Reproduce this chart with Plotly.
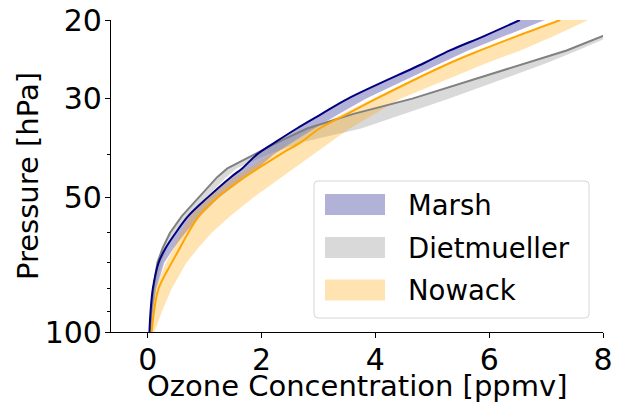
import math
import plotly.graph_objects as go

# Pressure levels [hPa]
pressure = [100, 90, 80, 70, 65, 60, 55, 50, 45, 43, 40, 37.5, 35, 32.5, 30, 25, 23.4, 21.7, 20]

# Ozone profiles [ppmv]: central line plus band edges for each dataset
marsh_line = [0.03, 0.05, 0.09, 0.19, 0.31, 0.49, 0.71, 1.05, 1.46, 1.66, 1.92, 2.25, 2.62, 3.05, 3.52, 4.85, 5.31, 5.92, 6.54]
marsh_upper = [0.06, 0.09, 0.15, 0.29, 0.45, 0.66, 0.92, 1.25, 1.72, 1.93, 2.22, 2.56, 2.93, 3.36, 3.84, 5.15, 5.63, 6.28, 6.98]

diet_line = [0.04, 0.06, 0.10, 0.17, 0.26, 0.39, 0.60, 0.90, 1.22, 1.40, 1.87, 2.30, 2.80, 3.60, 4.65, 6.63, 7.36, 8.00, 8.72]
diet_upper = [0.06, 0.09, 0.14, 0.24, 0.34, 0.48, 0.70, 1.02, 1.38, 1.56, 2.12, 2.75, 3.75, 4.50, 5.30, 7.00, 7.55, 8.15, 8.90]

nowack_line = [0.07, 0.11, 0.19, 0.42, 0.56, 0.71, 0.90, 1.22, 1.70, 1.94, 2.33, 2.70, 3.02, 3.50, 4.02, 5.30, 5.84, 6.50, 7.25]
nowack_lower = [0.05, 0.08, 0.13, 0.32, 0.45, 0.57, 0.75, 1.06, 1.52, 1.76, 2.16, 2.55, 2.90, 3.42, 3.96, 5.28, 5.83, 6.50, 7.25]
nowack_upper = [0.12, 0.25, 0.42, 0.68, 0.88, 1.12, 1.45, 1.85, 2.35, 2.58, 2.91, 3.22, 3.55, 3.98, 4.45, 5.95, 6.55, 7.15, 7.74]

names = ["Marsh", "Dietmueller", "Nowack"]
line_colors = ["#000080", "#808080", "#FFA500"]
fill_colors = ["rgba(0,0,128,0.3)", "rgba(128,128,128,0.3)", "rgba(255,165,0,0.3)"]

x_ticks = [0, 2, 4, 6, 8]
y_ticks = [20, 30, 50, 100]
y_minor = [40, 60, 70, 80, 90]

FONT = "DejaVu Sans"
W, H = 623, 403
L, R, T, B = 111, 20, 20, 71

fig = go.Figure()

bands = [
    (marsh_line, marsh_upper),
    (diet_line, diet_upper),
    (nowack_lower, nowack_upper),
]
for (lo, hi), fc in zip(bands, fill_colors):
    fig.add_trace(go.Scatter(
        x=list(lo) + list(hi)[::-1],
        y=list(pressure) + list(pressure)[::-1],
        mode="lines", fill="toself", fillcolor=fc,
        line=dict(width=0, color=fc), showlegend=False, hoverinfo="skip",
    ))

for xs, col, shape in [
    (diet_line, line_colors[1], "linear"),
    (marsh_line, line_colors[0], "spline"),
    (nowack_line, line_colors[2], "spline"),
]:
    fig.add_trace(go.Scatter(
        x=xs, y=pressure, mode="lines",
        line=dict(color=col, width=2, shape=shape),
        showlegend=False,
    ))

# Pixel -> paper coordinate helpers for the legend box and titles
pw, ph = W - L - R, H - T - B


def px(x):
    return (x - L) / pw


def py(y):
    return (H - B - y) / ph


bx0, bx1, by0, by1 = 314, 589, 181, 318
r = 4
path = (
    f"M {px(bx0 + r)},{py(by0)} L {px(bx1 - r)},{py(by0)} "
    f"Q {px(bx1)},{py(by0)} {px(bx1)},{py(by0 + r)} "
    f"L {px(bx1)},{py(by1 - r)} Q {px(bx1)},{py(by1)} {px(bx1 - r)},{py(by1)} "
    f"L {px(bx0 + r)},{py(by1)} Q {px(bx0)},{py(by1)} {px(bx0)},{py(by1 - r)} "
    f"L {px(bx0)},{py(by0 + r)} Q {px(bx0)},{py(by0)} {px(bx0 + r)},{py(by0)} Z"
)
fig.add_shape(type="path", path=path, xref="paper", yref="paper",
              fillcolor="rgba(255,255,255,0.8)", line=dict(color="#d6d6d6", width=1))

row_centers = [204.5, 247.5, 290]
for name, fc, yc in zip(names, fill_colors, row_centers):
    fig.add_shape(type="rect", xref="paper", yref="paper",
                  x0=px(325), x1=px(385), y0=py(yc - 10.5), y1=py(yc + 10.5),
                  fillcolor=fc, line=dict(width=0))
    fig.add_annotation(text=name, xref="paper", yref="paper",
                       x=px(406), y=py(yc), xanchor="left", yanchor="middle",
                       showarrow=False, font=dict(family=FONT, size=27.5, color="black"))

# Axis titles
fig.add_annotation(text="Ozone Concentration [ppmv]", xref="paper", yref="paper",
                   x=px(357), y=py(386), xanchor="center", yanchor="middle",
                   showarrow=False, font=dict(family=FONT, size=29, color="black"))
fig.add_annotation(text="Pressure [hPa]", xref="paper", yref="paper",
                   x=px(28), y=py(176), xanchor="center", yanchor="middle", textangle=-90,
                   showarrow=False, font=dict(family=FONT, size=29, color="black"))

fig.update_layout(
    width=W, height=H,
    margin=dict(l=L, r=R, t=T, b=B, pad=0, autoexpand=False),
    paper_bgcolor="white", plot_bgcolor="white",
    font=dict(family=FONT, size=30, color="black"),
    showlegend=False,
)
fig.update_xaxes(
    range=[-0.645, 8], tickvals=x_ticks, ticktext=[str(v) for v in x_ticks],
    ticks="outside", ticklen=5, tickwidth=1.1, tickcolor="black",
    showline=True, linecolor="black", linewidth=1.1, showgrid=False, zeroline=False,
    tickfont=dict(family=FONT, size=30), automargin=False, ticklabelstandoff=-4,
)
fig.update_yaxes(
    type="log", range=[math.log10(100), math.log10(20)],
    tickvals=y_ticks, ticktext=[str(v) for v in y_ticks],
    ticks="outside", ticklen=5, tickwidth=1.1, tickcolor="black",
    minor=dict(tickvals=y_minor, ticks="outside", ticklen=3, tickwidth=0.9, tickcolor="black", showgrid=False),
    showline=True, linecolor="black", linewidth=1.1, showgrid=False, zeroline=False,
    tickfont=dict(family=FONT, size=30), automargin=False, ticklabelstandoff=-3,
)

fig.write_html("out.html")
